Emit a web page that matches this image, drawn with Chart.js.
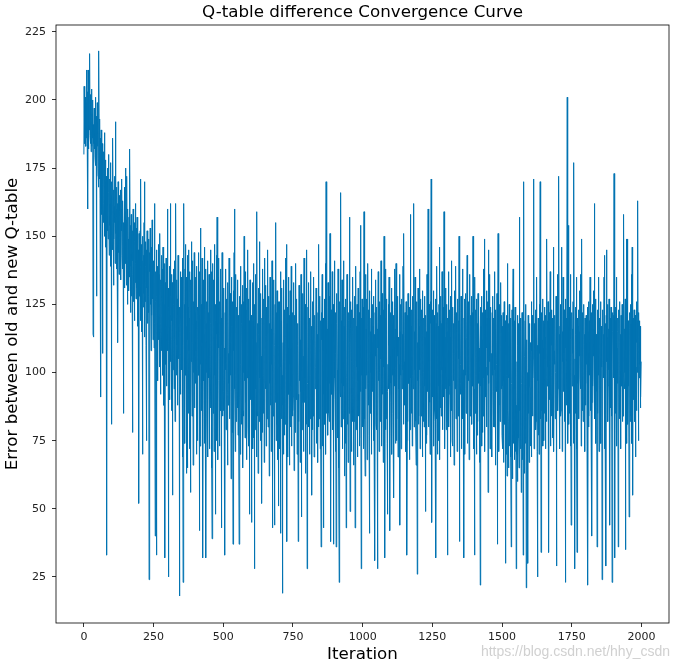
<!DOCTYPE html>
<html><head><meta charset="utf-8">
<script src="https://cdn.jsdelivr.net/npm/chart.js@4"></script>
<style>html,body{margin:0;padding:0;background:#fff}#wrap{width:679px;height:667px}</style>
</head><body><div id="wrap"><canvas id="c" width="679" height="667"></canvas></div>
<script>
const chartTitle = 'Q-table difference Convergence Curve';
const xLabel = 'Iteration';
const yLabel = 'Error between old and new Q-table';
const watermark = 'https://blog.csdn.net/hhy_csdn';
const xTicks = [0, 250, 500, 750, 1000, 1250, 1500, 1750, 2000];
const yTicks = [25, 50, 75, 100, 125, 150, 175, 200, 225];
const errors = [
180,205,188,197,184,201,192,183,199,186,211,190,185,203,160,211,194,182,206,189,198,217,187,202,184,196,181,204,190,183,195,186,200,114,191,113,184,197,182,193,179,201,186,176,194,128,188,172,199,183,
196,175,203,168,218,182,171,193,164,186,178,91,189,166,180,158,184,107,176,162,181,155,173,167,188,150,170,163,178,146,172,159,33,168,152,175,161,149,180,157,166,143,171,154,162,148,177,139,165,81,
170,152,163,145,186,158,132,167,149,161,155,172,140,164,192,151,160,138,168,147,162,153,111,170,144,158,136,165,150,159,141,167,149,134,160,152,171,143,157,138,163,146,85,155,139,168,148,131,159,144,
175,140,156,132,172,145,151,125,160,138,149,130,157,143,135,182,146,122,154,139,158,128,147,136,78,152,141,160,126,150,137,155,119,148,133,162,140,127,153,144,131,157,138,149,117,145,134,52,151,129,
145,128,152,119,171,138,132,147,115,141,136,70,150,124,143,129,155,113,170,133,126,148,139,110,145,75,131,152,118,140,135,122,149,128,24,144,116,137,153,125,131,108,146,134,121,156,127,140,112,138,
122,141,109,133,162,118,40,137,126,104,145,33,128,115,139,97,131,147,112,124,136,102,129,151,118,92,134,121,143,108,127,114,138,99,146,120,131,88,125,140,111,32,133,119,103,142,126,95,137,116,
160,108,131,97,25,124,115,139,90,121,162,104,128,112,136,86,119,133,55,117,101,138,109,125,94,141,113,82,130,106,162,118,99,134,110,127,88,121,143,105,116,131,95,18,124,107,137,92,120,113,
135,101,119,69,142,110,23,162,97,161,114,125,74,138,106,147,99,117,63,135,103,143,65,112,124,85,145,108,120,72,137,115,98,56,134,104,148,111,84,123,109,141,66,118,126,100,144,87,113,122,
96,135,108,119,70,139,101,115,75,124,112,144,99,121,42,106,137,73,117,153,103,125,86,111,142,67,120,32,108,134,97,114,146,74,123,105,138,61,32,118,100,126,83,116,141,69,109,122,98,136,
113,72,124,106,145,87,118,102,137,65,39,121,108,140,85,116,134,71,111,147,99,119,48,125,104,143,75,114,157,101,122,68,135,109,142,97,117,73,126,106,138,86,115,120,43,110,144,84,124,103,
93,86,131,97,109,74,33,122,101,138,79,79,115,127,92,66,112,133,88,107,96,142,85,83,121,129,99,113,61,135,77,117,78,126,94,37,130,85,108,144,160,95,94,71,106,136,82,114,100,124,
93,87,134,77,105,121,87,37,128,99,91,70,139,103,91,125,81,118,108,132,65,86,126,84,100,150,97,120,76,137,81,89,123,114,68,131,98,117,145,80,84,127,73,119,48,102,134,90,115,96,
121,88,45,88,104,133,72,119,95,140,76,117,28,125,79,107,136,94,111,69,126,159,86,84,118,63,131,100,114,82,148,98,123,75,87,129,91,106,52,120,85,78,138,99,116,85,127,67,108,142,
97,94,104,132,73,111,124,83,139,101,145,80,89,107,128,62,118,96,135,92,88,127,71,116,103,141,43,108,121,84,92,98,134,76,44,110,125,89,115,155,75,122,81,130,106,68,119,93,51,126,
83,94,126,72,114,137,41,102,119,83,131,99,19,91,88,111,70,134,104,120,77,123,81,142,86,113,97,147,38,118,76,124,69,109,135,92,115,66,121,103,130,80,87,95,139,73,117,90,122,84,
86,91,99,133,64,113,94,121,78,108,140,91,90,102,127,70,118,87,110,38,92,82,132,97,105,123,67,112,93,136,75,47,119,79,111,129,89,106,71,120,142,92,89,98,125,63,116,85,107,81,
145,28,91,96,124,105,80,133,101,113,70,120,83,92,137,99,117,76,55,112,79,126,84,118,97,135,69,115,106,121,94,94,102,131,74,110,125,96,114,67,122,80,139,147,83,116,100,128,72,119,
78,36,122,95,112,136,73,108,120,99,43,92,104,127,81,119,97,140,70,170,85,94,124,102,116,77,133,100,121,85,82,128,96,151,114,68,38,123,101,118,92,137,81,79,125,99,37,113,104,141,
98,90,71,122,107,36,129,84,118,101,88,76,138,97,120,65,23,109,126,93,91,104,166,80,119,96,134,72,112,123,83,83,141,95,117,62,124,103,121,74,127,43,85,98,136,81,118,105,67,122,
75,119,85,157,111,49,126,96,116,104,71,123,99,89,82,135,103,118,66,120,82,94,128,43,113,98,139,79,117,102,125,69,90,97,131,84,109,122,73,116,76,137,154,93,112,28,120,99,127,80,
92,97,124,72,112,159,103,121,83,62,84,136,94,116,99,127,68,119,105,140,96,88,123,77,41,107,130,85,115,100,120,70,138,79,111,93,125,98,117,75,128,77,114,88,31,122,106,134,81,118,
79,124,84,116,28,109,137,97,119,71,86,126,100,82,121,105,141,73,115,98,129,95,92,107,67,123,102,150,112,86,32,120,79,138,83,114,99,127,74,48,93,103,125,94,110,135,76,116,42,106,
122,96,89,104,131,70,118,99,126,85,83,121,54,112,95,138,102,116,74,124,140,75,117,83,123,106,128,69,113,97,94,103,136,86,44,115,99,125,72,117,80,127,94,114,101,139,81,119,151,104,
88,95,122,102,118,71,126,106,115,33,75,121,82,129,107,116,96,124,68,112,79,137,158,98,117,85,123,109,73,128,99,94,105,125,162,80,115,101,135,94,120,82,66,126,102,116,26,111,97,131,
81,122,84,117,101,138,72,114,98,127,84,86,123,103,119,69,130,100,116,82,120,80,128,95,113,99,49,121,74,115,77,136,93,119,107,160,80,116,104,125,97,89,70,126,101,118,171,87,45,111,
123,97,91,105,130,73,113,102,121,86,82,127,99,32,118,83,139,104,114,70,122,75,117,95,125,146,108,68,119,103,87,128,84,118,101,137,79,115,106,124,96,91,159,102,123,72,113,131,94,120,
79,125,82,115,107,33,120,99,137,80,92,103,123,95,113,69,128,105,119,86,141,75,115,73,124,107,97,118,66,130,77,121,94,112,139,83,116,106,122,71,89,99,127,84,119,105,150,38,109,124,
96,92,103,128,72,114,122,98,107,138,83,91,101,32,120,105,127,70,112,99,129,85,93,102,113,143,74,123,106,115,97,126,68,92,104,136,84,110,121,100,89,128,81,107,122,95,150,103,117,72,
94,33,111,135,85,108,123,99,116,70,127,77,118,82,129,105,96,121,109,67,90,100,22,124,95,117,107,128,73,112,78,122,84,118,138,98,114,149,71,106,123,94,91,102,130,80,109,120,99,126,
56,86,145,96,120,104,136,72,115,100,124,84,92,107,69,122,99,128,93,112,80,120,80,137,101,116,66,123,108,95,93,103,129,37,110,85,151,98,121,71,88,105,125,82,119,100,133,94,109,121,
77,72,117,95,122,67,109,97,126,81,81,119,84,30,111,70,121,99,62,114,140,86,82,65,118,98,125,73,104,112,82,120,69,36,85,96,123,61,103,117,138,74,83,99,68,119,94,124,71,105,
98,28,88,70,104,121,60,110,84,118,76,65,107,157,86,120,72,105,115,56,84,96,122,68,102,117,33,83,170,99,89,63,106,119,74,103,125,21,97,112,71,91,100,30,121,85,107,67,118,103,
95,94,73,111,101,126,69,108,121,84,90,98,105,124,171,72,118,100,109,85,123,79,82,117,99,135,71,25,110,97,120,77,115,70,125,96,107,170,83,116,34,80,122,86,112,99,127,73,109,119,
75,118,85,124,105,113,72,121,98,132,82,149,95,119,102,126,82,111,34,122,96,90,104,137,73,117,99,123,84,110,120,76,114,86,125,146,71,108,118,103,121,83,91,100,128,97,29,112,106,136,
86,94,103,122,172,98,114,72,117,105,125,84,86,146,100,120,71,115,104,135,97,93,107,123,82,116,102,127,23,109,120,95,88,104,201,121,74,117,100,154,81,124,85,115,99,136,73,112,44,119,
77,122,95,116,107,126,74,113,177,99,93,28,105,124,85,114,100,135,72,34,86,120,96,117,103,123,83,115,106,130,98,94,104,136,73,113,149,100,116,86,122,82,118,84,125,101,114,71,120,105,
88,96,121,103,117,73,124,100,22,115,80,126,84,119,99,112,135,86,108,118,72,122,40,89,102,125,95,116,106,130,98,162,86,83,119,104,127,74,114,100,93,36,107,123,85,115,99,135,71,112,
78,120,96,113,126,74,117,102,111,24,94,86,123,105,114,98,135,72,143,108,75,118,85,29,121,145,104,113,82,125,82,95,116,101,127,73,114,44,120,99,87,124,84,117,104,23,122,97,115,106,
121,98,173,80,116,32,119,85,124,102,88,135,73,109,120,96,115,36,106,123,99,92,83,126,104,114,72,121,101,118,95,125,82,112,84,122,103,158,98,116,94,100,127,35,108,86,149,113,74,124,
149,81,119,95,114,101,47,122,98,116,82,125,84,118,103,136,74,146,110,55,120,99,90,96,123,105,113,82,121,69,92,102,126,86,111,119,100,163,106,75,89,122,98,119,103,117,87,111,91,104
];
const iterations = errors.map((_, i) => i);

const FONT = '"DejaVu Sans", sans-serif';

const decor = {
  id: 'decor',
  afterDraw(chart) {
    const { ctx, chartArea: a } = chart;
    ctx.save();
    ctx.strokeStyle = '#000';
    ctx.lineWidth = 0.8;
    ctx.strokeRect(a.left, a.top, a.right - a.left, a.bottom - a.top);
    ctx.fillStyle = '#000';
    ctx.font = '16.7px ' + FONT;
    ctx.textAlign = 'center';
    ctx.textBaseline = 'middle';
    ctx.fillText(chartTitle, (a.left + a.right) / 2, 13);
    ctx.fillStyle = 'rgba(170,170,170,0.55)';
    ctx.font = '14px "Liberation Sans", sans-serif';
    ctx.textAlign = 'right';
    ctx.textBaseline = 'alphabetic';
    ctx.fillText(watermark, 670, 656);
    ctx.restore();
  }
};

new Chart(document.getElementById('c'), {
  type: 'line',
  data: {
    datasets: [{
      data: iterations.map((x, i) => ({ x: x, y: errors[i] })),
      borderColor: '#0173B2',
      borderWidth: 1,
      pointRadius: 0,
      fill: false,
      tension: 0
    }]
  },
  options: {
    responsive: false,
    animation: false,
    devicePixelRatio: 1,
    layout: { padding: { top: 25, right: 10, left: 0, bottom: 0 } },
    plugins: { legend: { display: false }, tooltip: { enabled: false }, title: { display: false } },
    scales: {
      x: {
        type: 'linear',
        min: -100,
        max: 2099,
        afterBuildTicks: s => { s.ticks = xTicks.map(v => ({ value: v })); },
        afterFit: s => { s.height = 44; },
        ticks: { color: '#222', font: { size: 11, family: FONT }, padding: 4, maxRotation: 0, autoSkip: false, callback: v => String(v) },
        grid: { drawOnChartArea: false, drawTicks: true, tickLength: 4, color: '#000', lineWidth: 0.8 },
        border: { display: false },
        title: { display: true, text: xLabel, color: '#000', font: { size: 16.7, family: FONT }, padding: { top: 0, bottom: 2 } }
      },
      y: {
        type: 'linear',
        min: 8.1,
        max: 227.5,
        afterBuildTicks: s => { s.ticks = yTicks.map(v => ({ value: v })); },
        afterFit: s => { s.width = 56; },
        ticks: { color: '#222', font: { size: 11, family: FONT }, padding: 6, autoSkip: false, callback: v => String(v) },
        grid: { drawOnChartArea: false, drawTicks: true, tickLength: 4, color: '#000', lineWidth: 0.8 },
        border: { display: false },
        title: { display: true, text: yLabel, color: '#000', font: { size: 16.7, family: FONT }, padding: { top: 3, bottom: 0 } }
      }
    }
  },
  plugins: [decor]
});
</script>
</body></html>
